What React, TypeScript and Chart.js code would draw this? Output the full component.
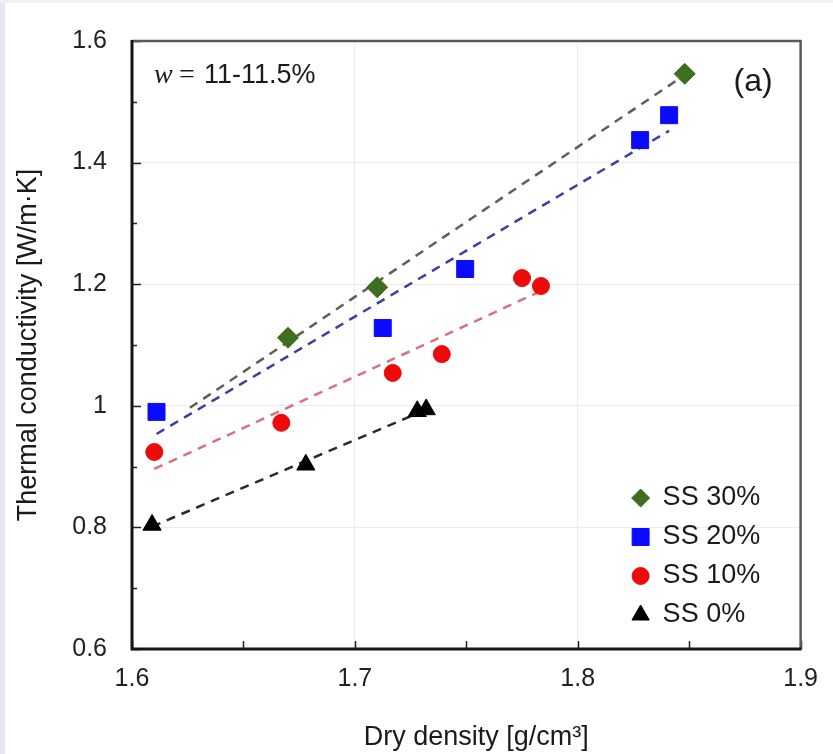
import { useEffect, useRef } from "react";
import { Chart, registerables } from "chart.js";
import { drawPoint } from "chart.js/helpers";

Chart.register(...registerables);

// ---- data ----
const seriesLabels = ["SS 30%", "SS 20%", "SS 10%", "SS 0%"];
const ss30X = [1.67, 1.71, 1.848];
const ss30Y = [1.112, 1.195, 1.546];
const ss20X = [1.611, 1.7125, 1.7495, 1.828, 1.841];
const ss20Y = [0.99, 1.128, 1.225, 1.437, 1.478];
const ss10X = [1.61, 1.667, 1.717, 1.739, 1.775, 1.7835];
const ss10Y = [0.924, 0.972, 1.054, 1.085, 1.21, 1.197];
const ss0X = [1.609, 1.678, 1.728, 1.732];
const ss0Y = [0.804, 0.903, 0.991, 0.994];
const trendStartX = [1.626, 1.611, 1.61, 1.609];

const xTickValues = [1.6, 1.7, 1.8, 1.9];
const xTickLabels = ["1.6", "1.7", "1.8", "1.9"];
const yTickValues = [0.6, 0.8, 1.0, 1.2, 1.4, 1.6];
const yTickLabels = ["0.6", "0.8", "1", "1.2", "1.4", "1.6"];
const xTitle = "Dry density [g/cm³]";
const yTitle = "Thermal conductivity [W/m·K]";
const noteVar = "w";
const noteValue = "11-11.5%";
const panelLabel = "(a)";

const SANS = "'Liberation Sans', Arial, sans-serif";
const SERIF = "'Liberation Serif', 'Times New Roman', serif";

function linFit(xs: number[], ys: number[]) {
  const n = xs.length;
  const mx = xs.reduce((s, v) => s + v, 0) / n;
  const my = ys.reduce((s, v) => s + v, 0) / n;
  let sxy = 0;
  let sxx = 0;
  for (let i = 0; i < n; i++) {
    sxy += (xs[i] - mx) * (ys[i] - my);
    sxx += (xs[i] - mx) * (xs[i] - mx);
  }
  const m = sxy / sxx;
  return { m, b: my - m * mx };
}

const seriesX = [ss30X, ss20X, ss10X, ss0X];
const seriesY = [ss30Y, ss20Y, ss10Y, ss0Y];

const markerStyle = ["rectRot", "rect", "circle", "triangle"];
const markerColor = ["#3f6e1e", "#0a0aff", "#ee0a0a", "#000000"];
const markerRadius = [10.5, 12, 8.5, 10.5];
const legendRadius = [9, 12, 8.5, 10];
const lineColor = ["#5a6352", "#3d3da6", "#d8727a", "#2a2a2a"];

export default function App() {
  const ref = useRef<HTMLCanvasElement | null>(null);

  useEffect(() => {
    const canvas = ref.current;
    if (!canvas) return;

    const pointSets: any[] = seriesLabels.map((label, i) => ({
      type: "scatter",
      label,
      data: seriesX[i].map((x, j) => ({ x, y: seriesY[i][j] })),
      pointStyle: markerStyle[i],
      pointRadius: markerRadius[i],
      pointHoverRadius: markerRadius[i],
      backgroundColor: markerColor[i],
      borderColor: markerColor[i],
      borderWidth: 1,
      showLine: false,
      order: 0,
      isPoints: true,
      legendRadius: legendRadius[i],
    }));

    const lineSets: any[] = seriesLabels.map((label, i) => {
      const { m, b } = linFit(seriesX[i], seriesY[i]);
      const x0 = trendStartX[i];
      const x1 = Math.max(...seriesX[i]);
      return {
        type: "scatter",
        label: label + " fit",
        data: [
          { x: x0, y: m * x0 + b },
          { x: x1, y: m * x1 + b },
        ],
        showLine: true,
        borderColor: lineColor[i],
        borderWidth: 2.5,
        borderDash: [9, 7],
        pointRadius: 0,
        pointHoverRadius: 0,
        fill: false,
        order: 1,
        isPoints: false,
      };
    });

    const framePlugin = {
      id: "frameAndNotes",
      beforeDraw(chart: any) {
        const ctx = chart.ctx;
        ctx.save();
        ctx.fillStyle = "#ffffff";
        ctx.fillRect(0, 0, chart.width, chart.height);
        ctx.fillStyle = "#e3e6ee";
        ctx.fillRect(0, 0, 5, chart.height);
        ctx.fillStyle = "#eef0f5";
        ctx.fillRect(0, 0, chart.width, 3);
        ctx.restore();
      },
      afterDatasetsDraw(chart: any) {
        const { ctx, chartArea: a, scales } = chart;
        const xs = scales.x;
        const ys = scales.y;
        ctx.save();
        // inside ticks
        ctx.strokeStyle = "#222";
        ctx.lineWidth = 1.5;
        for (let i = 0; i <= 10; i++) {
          const py = Math.round(ys.getPixelForValue(0.6 + i * 0.1)) + 0.5;
          const len = i % 2 === 0 ? 9 : 5;
          ctx.beginPath();
          ctx.moveTo(a.left, py);
          ctx.lineTo(a.left + len, py);
          ctx.stroke();
        }
        for (let i = 0; i <= 6; i++) {
          const px = Math.round(xs.getPixelForValue(1.6 + i * 0.05)) + 0.5;
          ctx.beginPath();
          ctx.moveTo(px, a.bottom);
          ctx.lineTo(px, a.bottom - 8);
          ctx.stroke();
        }
        // frame
        ctx.strokeStyle = "#5a5a5a";
        ctx.lineWidth = 2.5;
        ctx.beginPath();
        ctx.moveTo(a.left, a.top);
        ctx.lineTo(a.right, a.top);
        ctx.lineTo(a.right, a.bottom);
        ctx.stroke();
        ctx.strokeStyle = "#151515";
        ctx.lineWidth = 3;
        ctx.beginPath();
        ctx.moveTo(a.left, a.top - 1);
        ctx.lineTo(a.left, a.bottom);
        ctx.lineTo(a.right + 1, a.bottom);
        ctx.stroke();

        // note text
        ctx.fillStyle = "#1a1a1a";
        ctx.textBaseline = "alphabetic";
        ctx.textAlign = "left";
        ctx.font = `italic 28px ${SERIF}`;
        ctx.fillText(noteVar, a.left + 22, 83);
        ctx.font = `28px ${SERIF}`;
        ctx.fillText("=", a.left + 47, 83);
        ctx.font = `27px ${SANS}`;
        ctx.fillText(noteValue, a.left + 72, 83);

        // panel label
        ctx.font = `32px ${SANS}`;
        ctx.fillText(panelLabel, a.right - 67, 91);

        // x title
        ctx.font = `27px ${SANS}`;
        ctx.textAlign = "center";
        ctx.fillText(xTitle, (a.left + a.right) / 2 + 10, 745);

        // legend
        ctx.textAlign = "left";
        ctx.textBaseline = "middle";
        const sets = chart.data.datasets.filter((d: any) => d.isPoints);
        sets.forEach((d: any, i: number) => {
          const cy = 498 + i * 39;
          const cx = a.right - 160;
          ctx.fillStyle = d.backgroundColor;
          ctx.strokeStyle = d.borderColor;
          ctx.lineWidth = 1;
          drawPoint(
            ctx,
            { pointStyle: d.pointStyle, radius: d.legendRadius, rotation: 0, borderWidth: 1 },
            cx,
            cy
          );
          ctx.fillStyle = "#1a1a1a";
          ctx.font = `27px ${SANS}`;
          ctx.fillText(d.label, a.right - 138, cy);
        });
        ctx.restore();
      },
    };

    const chart = new Chart(canvas, {
      type: "scatter",
      data: { datasets: [...pointSets, ...lineSets] },
      options: {
        animation: false,
        responsive: false,
        layout: { padding: { left: 0, top: 41, right: 21, bottom: 0 } },
        plugins: {
          legend: { display: false },
          tooltip: { enabled: false },
          title: { display: false },
        },
        scales: {
          x: {
            type: "linear",
            min: 1.6,
            max: 1.9,
            afterBuildTicks: (s: any) => {
              s.ticks = xTickValues.map((v) => ({ value: v }));
            },
            afterFit: (s: any) => {
              s.height = 105;
            },
            ticks: {
              callback: (_v: any, i: number) => xTickLabels[i],
              font: { family: SANS, size: 25 },
              color: "#222",
              padding: 15,
              maxRotation: 0,
            },
            grid: { color: "#ececec", lineWidth: 1, drawTicks: false },
            border: { display: false },
          },
          y: {
            type: "linear",
            min: 0.6,
            max: 1.6,
            afterBuildTicks: (s: any) => {
              s.ticks = yTickValues.map((v) => ({ value: v }));
            },
            afterFit: (s: any) => {
              s.width = 132;
            },
            ticks: {
              callback: (_v: any, i: number) => yTickLabels[i],
              font: { family: SANS, size: 25 },
              color: "#222",
              padding: 25,
            },
            grid: { color: "#ececec", lineWidth: 1, drawTicks: false },
            border: { display: false },
            title: {
              display: true,
              text: yTitle,
              font: { family: SANS, size: 27 },
              color: "#1a1a1a",
              padding: { top: 12, bottom: 0 },
            },
          },
        },
      } as any,
      plugins: [framePlugin],
    });

    return () => chart.destroy();
  }, []);

  return (
    <div style={{ position: "absolute", left: 0, top: 0, width: 833, height: 754 }}>
      <canvas ref={ref} width={833} height={754} style={{ display: "block" }} />
    </div>
  );
}
